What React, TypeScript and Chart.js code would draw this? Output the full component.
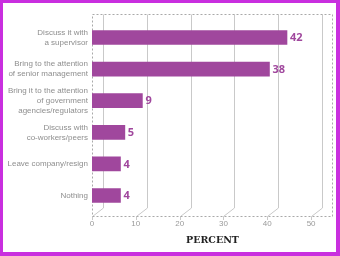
import React, { useEffect, useRef } from "react";
import { Chart, registerables } from "chart.js";

Chart.register(...registerables);

// ---- data ----
const categories: string[][] = [
  ["Discuss it with", "a supervisor"],
  ["Bring to the attention", "of senior management"],
  ["Bring it to the attention", "of government", "agencies/regulators"],
  ["Discuss with", "co-workers/peers"],
  ["Leave company/resign"],
  ["Nothing"],
];
const percentValues: number[] = [42, 38, 9, 5, 4, 4];
const tickValues: number[] = [0, 10, 20, 30, 40, 50];
const axisMax = 55;
const depthUnits = 2.5; // depth offset of the back (grid) plane, in axis units
const axisTitle = "PERCENT";

const BAR_COLOR = "#a0479d";
const GRID_COLOR = "#c9c9c9";
const DASH_COLOR = "#a9a9a9";

const frame3d = {
  id: "frame3d",
  beforeDatasetsDraw(chart: any) {
    const { ctx, chartArea: ca, scales } = chart;
    const x = scales.x;
    const xb = scales.xb;
    const top = Math.round(ca.top - 7.7) + 0.5;
    const bottom = Math.round(ca.bottom + 4.4) + 0.5;
    const backBottom = bottom - 8.5;
    ctx.save();
    ctx.strokeStyle = GRID_COLOR;
    ctx.lineWidth = 1;
    for (const v of tickValues) {
      const fx = Math.round(x.getPixelForValue(v)) + 0.5;
      const bx = Math.round(xb.getPixelForValue(v)) + 0.5;
      ctx.beginPath();
      ctx.moveTo(bx, top);
      ctx.lineTo(bx, backBottom);
      ctx.lineTo(fx, bottom);
      ctx.lineTo(fx, bottom + 3.5);
      ctx.stroke();
    }
    ctx.setLineDash([2, 2]);
    ctx.strokeStyle = DASH_COLOR;
    const left = Math.round(ca.left) + 0.5;
    const right = Math.round(ca.right) - 0.5;
    ctx.strokeRect(left, top, right - left, bottom - top);
    ctx.restore();
  },
  afterDatasetsDraw(chart: any) {
    const { ctx } = chart;
    const meta = chart.getDatasetMeta(0);
    ctx.save();
    ctx.fillStyle = BAR_COLOR;
    ctx.font = 'bold 11px "Open Sans", "DejaVu Sans", sans-serif';
    ctx.textAlign = "left";
    ctx.textBaseline = "middle";
    meta.data.forEach((bar: any, i: number) => {
      ctx.fillText(String(percentValues[i]), bar.x + 3, bar.y + 0.5);
    });
    ctx.restore();
  },
};

export default function App() {
  const ref = useRef<HTMLCanvasElement | null>(null);

  useEffect(() => {
    if (!ref.current) return;
    const chart = new Chart(ref.current, {
      type: "bar",
      data: {
        labels: categories as any,
        datasets: [
          {
            data: percentValues,
            xAxisID: "xb",
            yAxisID: "y",
            base: -depthUnits,
            backgroundColor: BAR_COLOR,
            borderWidth: 0,
            barThickness: 14,
          } as any,
        ],
      },
      options: {
        indexAxis: "y",
        animation: false,
        responsive: false,
        maintainAspectRatio: false,
        layout: { padding: { top: 18.7, right: 3, left: 0, bottom: 0 } },
        plugins: {
          legend: { display: false },
          tooltip: { enabled: false },
        },
        scales: {
          y: {
            type: "category",
            grid: { display: false, drawTicks: false },
            border: { display: false },
            ticks: {
              color: "#8e8e8e",
              autoSkip: false,
              padding: 4,
              font: { family: '"Liberation Sans", Arial, sans-serif', size: 8, lineHeight: 1.25 },
            },
            afterFit(s: any) {
              s.width = 89;
            },
          },
          x: {
            type: "linear",
            position: "bottom",
            min: 0,
            max: axisMax,
            grid: { display: false, drawTicks: false },
            border: { display: false },
            ticks: {
              stepSize: 10,
              color: "#9a9a9a",
              padding: 8,
              font: { family: '"Liberation Sans", Arial, sans-serif', size: 8 },
            },
            afterBuildTicks(s: any) {
              s.ticks = s.ticks.filter((t: any) => tickValues.includes(t.value));
            },
            afterFit(s: any) {
              s.height = 40.7;
            },
            title: {
              display: true,
              text: axisTitle,
              color: "#222222",
              font: { family: '"DejaVu Serif", serif', weight: "bold", size: 9.5 },
              padding: { top: 0, bottom: 6 },
            },
          },
          xb: {
            type: "linear",
            axis: "x",
            position: "bottom",
            display: false,
            min: -depthUnits,
            max: axisMax - depthUnits,
          } as any,
        },
      } as any,
      plugins: [frame3d],
    });
    return () => chart.destroy();
  }, []);

  return (
    <div
      style={{
        position: "fixed",
        left: 0,
        top: 0,
        width: 340,
        height: 256,
        boxSizing: "border-box",
        borderStyle: "solid",
        borderColor: "#c92fdf",
        borderWidth: "3px 4px 4px 3px",
        background: "#ffffff",
      }}
    >
      <canvas ref={ref} width={333} height={249} style={{ display: "block", width: 333, height: 249 }} />
    </div>
  );
}
